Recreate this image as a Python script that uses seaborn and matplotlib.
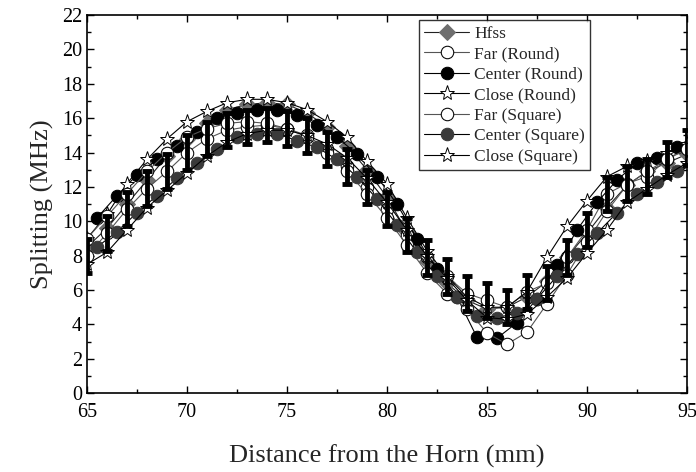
import numpy as np
import pandas as pd
import matplotlib
matplotlib.use("Agg")
import matplotlib.pyplot as plt
from matplotlib.ticker import MultipleLocator
import seaborn as sns

# data #
x_int = list(range(65, 96))
x_half = [v + 0.5 for v in range(65, 95)]

hfss = [8.5, 9.6, 11.0, 12.4, 13.8, 14.8, 15.7, 16.5, 16.8, 16.9, 16.8, 16.3, 15.5, 14.4, 13.0, 11.4,
        9.4, 7.7, 6.4, 5.4, 4.9, 5.0, 5.6, 6.5, 7.9, 9.3, 10.8, 12.1, 12.9, 13.4, 13.9]
far_round = [8.0, 9.3, 10.7, 11.9, 12.9, 14.0, 14.8, 15.3, 15.5, 15.6, 15.4, 15.0, 14.2, 13.2, 12.0, 10.7,
             9.2, 7.9, 6.8, 5.8, 5.4, 5.0, 5.9, 6.4, 7.9, 9.5, 11.6, 12.2, 12.6, 13.6, 14.3]
far_round_err = [1.0] * 31
center_round = [10.2, 11.5, 12.7, 13.6, 14.4, 15.2, 16.0, 16.3, 16.5, 16.5, 16.2, 15.6, 14.9, 13.9, 12.6,
                11.0, 9.0, 7.2, 5.6, 3.25, 3.2, 4.1, 5.5, 7.45, 9.5, 11.1, 12.4, 13.4, 13.7, 14.3]
close_round = [9.0, 10.4, 12.2, 13.6, 14.8, 15.8, 16.4, 16.9, 17.1, 17.1, 16.9, 16.5, 15.8, 14.9, 13.5, 12.2,
               10.2, 8.3, 6.8, 5.6, 5.0, 5.0, 5.9, 7.9, 9.7, 11.2, 12.6, 13.2, 13.5, 14.0, 14.5]
far_square = [9.0, 10.3, 11.6, 12.9, 14.0, 14.9, 15.4, 15.7, 15.8, 15.7, 15.4, 14.9, 14.0, 12.9, 11.6, 10.2,
              8.6, 7.0, 5.8, 4.9, 3.5, 2.85, 3.55, 5.2, 6.9, 8.8, 10.6, 12.1, 12.9, 13.6, 14.2]
center_square = [8.5, 9.4, 10.5, 11.5, 12.5, 13.4, 14.2, 14.9, 15.1, 15.1, 14.7, 14.3, 13.6, 12.6, 11.3,
                 9.8, 8.2, 6.8, 5.6, 4.5, 4.4, 4.65, 5.5, 6.8, 8.1, 9.3, 10.5, 11.6, 12.3, 12.9]
close_square = [7.5, 8.2, 9.5, 10.8, 11.8, 12.8, 13.8, 14.6, 15.1, 15.3, 15.3, 15.0, 14.5, 13.7, 12.5, 11.1,
                9.5, 8.0, 6.7, 5.4, 4.4, 4.3, 4.6, 5.6, 6.7, 8.15, 9.5, 11.1, 11.9, 12.7, 13.4]

x_ticks = [65, 70, 75, 80, 85, 90, 95]
y_ticks = list(range(0, 23, 2))

sns.set_style("ticks")
plt.rcParams['font.family'] = ['Liberation Serif', 'DejaVu Serif']

fig = plt.figure(figsize=(6.96, 4.72), dpi=100)
ax = fig.add_axes([0.125, 0.167, 0.862, 0.801])

series = [
    ("Hfss", x_int, hfss, dict(marker='D', markersize=8, markerfacecolor='#6e6e6e', markeredgecolor='#6e6e6e', color='#222222')),
    ("Far (Round)", x_int, far_round, dict(marker='o', markersize=9, markerfacecolor='white', markeredgecolor='black', color='#555555')),
    ("Center (Round)", x_half, center_round, dict(marker='o', markersize=9, markerfacecolor='black', markeredgecolor='black', color='black')),
    ("Close (Round)", x_int, close_round, dict(marker='*', markersize=11, markerfacecolor='white', markeredgecolor='black', markeredgewidth=0.7, color='black')),
    ("Far (Square)", x_int, far_square, dict(marker='o', markersize=9, markerfacecolor='white', markeredgecolor='black', color='#555555')),
    ("Center (Square)", x_half, center_square, dict(marker='o', markersize=9, markerfacecolor='#3a3a3a', markeredgecolor='#3a3a3a', color='black')),
    ("Close (Square)", x_int, close_square, dict(marker='*', markersize=11, markerfacecolor='white', markeredgecolor='black', markeredgewidth=0.7, color='black')),
]

for name, xs, ys, st in series:
    df = pd.DataFrame({'x': xs, 'y': ys})
    sns.lineplot(data=df, x='x', y='y', ax=ax, label=name, linewidth=0.8, **st)

# error bars on Far (Round) #
ax.errorbar(x_int, far_round, yerr=far_round_err, fmt='none', ecolor='black',
            elinewidth=3.5, capsize=3.8, capthick=3.5, zorder=3)

ax.set_xlim(65, 95)
ax.set_ylim(0, 22)
ax.set_xticks(x_ticks)
ax.set_yticks(y_ticks)
ax.xaxis.set_minor_locator(MultipleLocator(2.5))
ax.yaxis.set_minor_locator(MultipleLocator(1))
ax.tick_params(which='both', direction='in', top=True, right=True, colors='black', labelsize=14.5, width=1)
ax.tick_params(which='major', length=5)
ax.tick_params(which='minor', length=3)
ax.tick_params(axis='x', pad=7)
for sp in ax.spines.values():
    sp.set_linewidth(1.2)
    sp.set_color('black')

ax.set_xlabel("Distance from the Horn (mm)", fontsize=19, labelpad=16)
ax.set_ylabel("Splitting (MHz)", fontsize=19, labelpad=6)

leg = ax.legend(loc='upper left', bbox_to_anchor=(0.553, 0.986), fontsize=12.5, frameon=True,
                fancybox=False, edgecolor='black', labelspacing=0.25, handlelength=2.6,
                handletextpad=0.3, borderpad=0.3, borderaxespad=0)
leg.get_frame().set_linewidth(1.0)

plt.savefig("out.png", dpi=100)
